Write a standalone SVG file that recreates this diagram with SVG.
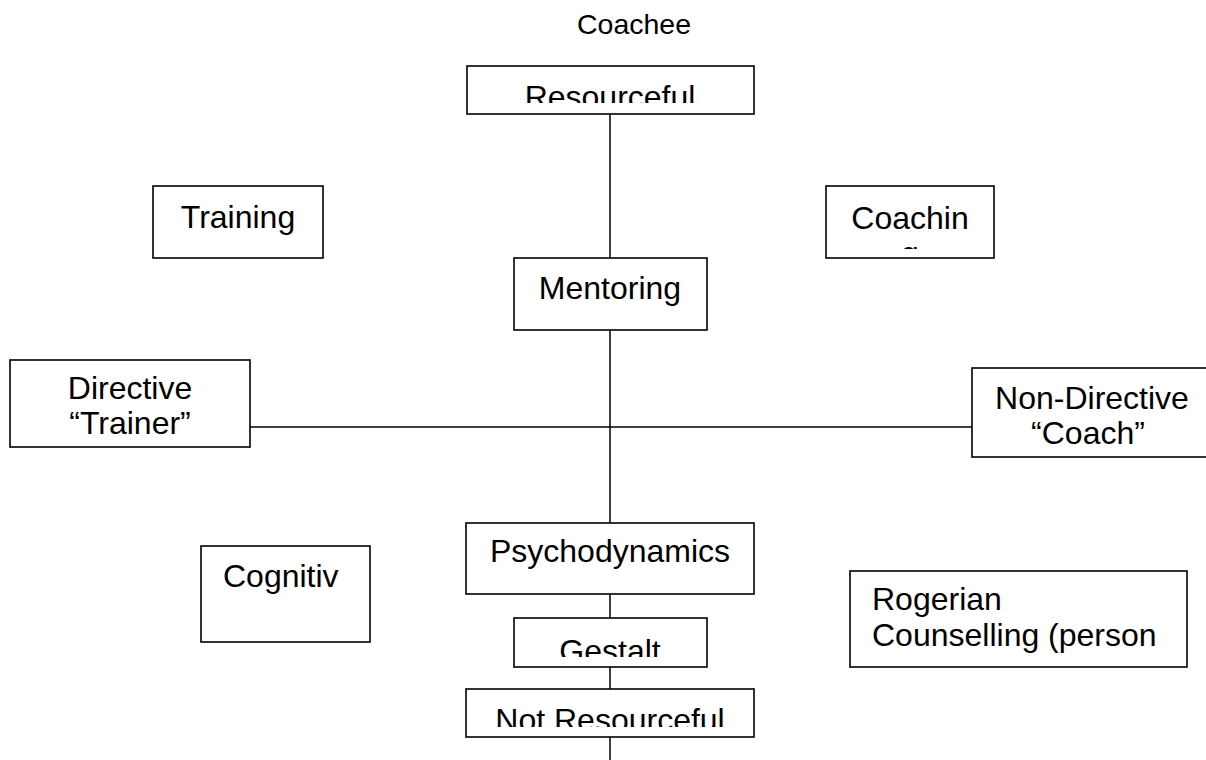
<svg xmlns="http://www.w3.org/2000/svg" width="1206" height="760" viewBox="0 0 1206 760">
<style>
.box{fill:#fff;stroke:#000;stroke-width:1.6}
.t{font-family:"Liberation Sans",Arial,sans-serif;font-size:32px;fill:#000}
.c{text-anchor:middle}
.ln{stroke:#000;stroke-width:1.5;fill:none}
</style>
<defs>
<clipPath id="cpRes"><rect x="467" y="66" width="287" height="37"/></clipPath>
<clipPath id="cpGes"><rect x="514" y="618" width="193" height="39"/></clipPath>
<clipPath id="cpNot"><rect x="466" y="689" width="288" height="38"/></clipPath>
<clipPath id="cpCoa"><rect x="826" y="186" width="168" height="63"/></clipPath>
</defs>
<rect width="1206" height="760" fill="#fff"/>
<g id="connectors">
<line class="ln" x1="610" y1="114" x2="610" y2="258"/>
<line class="ln" x1="610" y1="330" x2="610" y2="523"/>
<line class="ln" x1="610" y1="594" x2="610" y2="618"/>
<line class="ln" x1="610" y1="667" x2="610" y2="689"/>
<line class="ln" x1="610" y1="737" x2="610" y2="760"/>
<line class="ln" x1="250" y1="427" x2="972" y2="427"/>
</g>
<g id="coachee"><text class="t c" x="634" y="34" style="font-size:28.5px">Coachee</text></g>
<g id="resourceful"><rect class="box" x="467" y="66" width="287" height="48"/><text class="t c" x="610" y="108" clip-path="url(#cpRes)">Resourceful</text></g>
<g id="training"><rect class="box" x="153" y="186" width="170" height="72"/><text class="t c" x="238" y="228">Training</text></g>
<g id="coaching"><rect class="box" x="826" y="186" width="168" height="72"/><g clip-path="url(#cpCoa)"><text class="t c" x="910" y="229">Coachin</text><text class="t c" x="910" y="264">g</text></g></g>
<g id="mentoring"><rect class="box" x="514" y="258" width="193" height="72"/><text class="t c" x="610" y="299">Mentoring</text></g>
<g id="directive"><rect class="box" x="10" y="360" width="240" height="87"/><text class="t c" x="130" y="399">Directive</text><text class="t c" x="130" y="434">“Trainer”</text></g>
<g id="nondirective"><rect class="box" x="972" y="368" width="240" height="89"/><text class="t c" x="1092" y="409">Non-Directive</text><text class="t c" x="1088" y="444">“Coach”</text></g>
<g id="psychodynamics"><rect class="box" x="466" y="523" width="288" height="71"/><text class="t c" x="610" y="562">Psychodynamics</text></g>
<g id="cognitive"><rect class="box" x="201" y="546" width="169" height="96"/><text class="t" x="223" y="587">Cognitiv</text></g>
<g id="rogerian"><rect class="box" x="850" y="571" width="337" height="96"/><text class="t" x="872" y="610">Rogerian</text><text class="t" x="872" y="646">Counselling (person</text></g>
<g id="gestalt"><rect class="box" x="514" y="618" width="193" height="49"/><text class="t c" x="610" y="662" clip-path="url(#cpGes)">Gestalt</text></g>
<g id="notresourceful"><rect class="box" x="466" y="689" width="288" height="48"/><text class="t c" x="610" y="731" clip-path="url(#cpNot)">Not Resourceful</text></g>
</svg>
